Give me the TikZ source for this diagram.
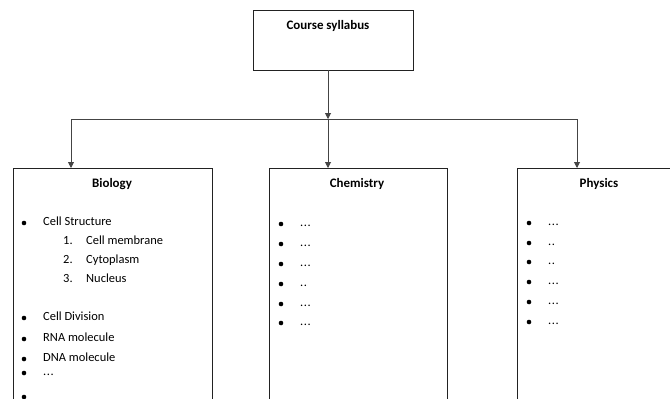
\documentclass[tikz,border=0pt]{standalone}
\usepackage{fontspec}
\setmainfont{Carlito}
\usetikzlibrary{arrows.meta}
\definecolor{boxline}{HTML}{222222}
\definecolor{conline}{HTML}{444444}
\newcommand{\threed}{.\kern0.6pt.\kern0.6pt.}
\newcommand{\twod}{.\kern0.6pt.}
\tikzset{
  box/.style={draw=boxline, line width=0.9bp, rectangle, inner sep=0pt, fill=white},
  conn/.style={draw=conline, line width=0.9bp},
  arr/.style={conn, -{Triangle[length=6bp,width=6bp]}},
  ttl/.style={font=\fontsize{13}{15}\selectfont\bfseries, inner sep=0pt},
  itm/.style={font=\fontsize{12.5}{14}\selectfont, anchor=mid west, inner sep=0pt},
  bul/.style={circle, fill=black, inner sep=0pt, minimum size=4.6bp}
}
\begin{document}
\begin{tikzpicture}[x=1bp,y=-1bp]
\useasboundingbox (0,0) rectangle (670,398);
\clip (0,0) rectangle (670,398);
\fill[white] (0,0) rectangle (670,398);
% boxes
\node[box, minimum width=160bp, minimum height=60bp] (top) at (333,40) {};
\node[ttl] (toptitle) at (328,26) {Course syllabus};
\node[box, minimum width=199bp, minimum height=260bp, anchor=north west] (bio) at (13,168) {};
\node[box, minimum width=178bp, minimum height=260bp, anchor=north west] (chem) at (269,168) {};
\node[box, minimum width=190bp, minimum height=260bp, anchor=north west] (phys) at (517,168) {};
% connectors
\coordinate (topout) at (328,70);
\coordinate (hub) at (328,119);
\coordinate (bioin) at (71,168);
\coordinate (chemin) at (328,168);
\coordinate (physin) at (577,168);
\draw[conn] (bioin |- hub) -- (physin |- hub);
\draw[arr] (topout) -- (hub);
\draw[arr] (bioin |- hub) -- (bioin);
\draw[arr] (hub) -- (chemin);
\draw[arr] (physin |- hub) -- (physin);
% titles
\node[ttl] (biot) at (112,184) {Biology};
\node[ttl] (chemt) at (357,184) {Chemistry};
\node[ttl] (physt) at (599,184) {Physics};
% Biology list
\node[bul] (b1) at (24,223) {};
\node[itm] (t1) at (43,223) {Cell Structure};
\node[itm] (n1) at (63,242) {1.};
\node[itm] (s1) at (86,242) {Cell membrane};
\node[itm] (n2) at (63,261) {2.};
\node[itm] (s2) at (86,261) {Cytoplasm};
\node[itm] (n3) at (63,280) {3.};
\node[itm] (s3) at (86,280) {Nucleus};
\node[bul] (b2) at (24,318) {};
\node[itm] (t2) at (43,318) {Cell Division};
\node[bul] (b3) at (24,339) {};
\node[itm] (t3) at (43,339) {RNA molecule};
\node[bul] (b4) at (24,359) {};
\node[itm] (t4) at (43,359) {DNA molecule};
\node[bul] (b5) at (24,373) {};
\node[itm] (t5) at (43,373) {\threed};
\node[bul] (b6) at (24,397) {};
% Chemistry list
\node[bul] (cb1) at (281,224) {}; \node[itm] (ct1) at (300,224) {\threed};
\node[bul] (cb2) at (281,244) {}; \node[itm] (ct2) at (300,244) {\threed};
\node[bul] (cb3) at (281,264) {}; \node[itm] (ct3) at (300,264) {\threed};
\node[bul] (cb4) at (281,284) {}; \node[itm] (ct4) at (300,284) {\twod};
\node[bul] (cb5) at (281,304) {}; \node[itm] (ct5) at (300,304) {\threed};
\node[bul] (cb6) at (281,323) {}; \node[itm] (ct6) at (300,323) {\threed};
% Physics list
\node[bul] (pb1) at (529,223) {}; \node[itm] (pt1) at (548,223) {\threed};
\node[bul] (pb2) at (529,243) {}; \node[itm] (pt2) at (548,243) {\twod};
\node[bul] (pb3) at (529,262) {}; \node[itm] (pt3) at (548,262) {\twod};
\node[bul] (pb4) at (529,282) {}; \node[itm] (pt4) at (548,282) {\threed};
\node[bul] (pb5) at (529,302) {}; \node[itm] (pt5) at (548,302) {\threed};
\node[bul] (pb6) at (529,322) {}; \node[itm] (pt6) at (548,322) {\threed};
\end{tikzpicture}
\end{document}
